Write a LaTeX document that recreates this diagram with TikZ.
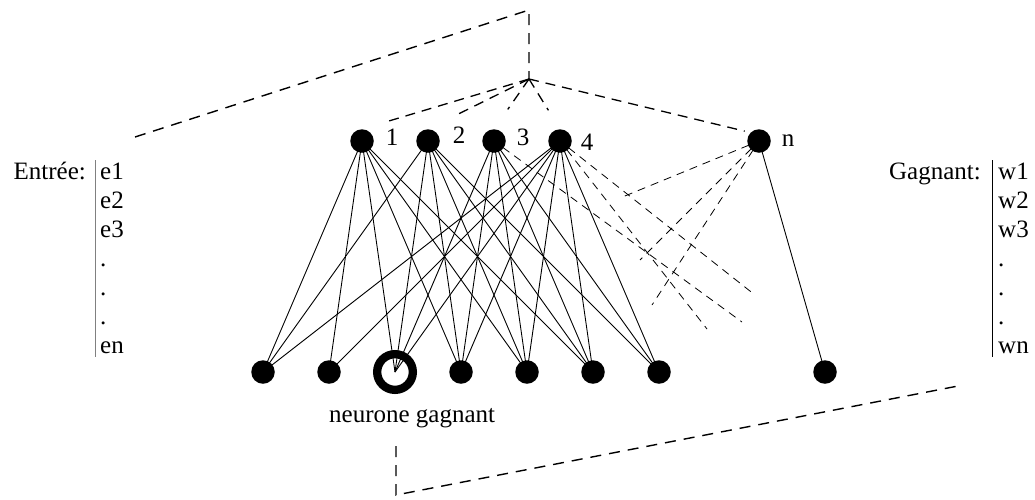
\documentclass[tikz,border=0pt]{standalone}
\usepackage{fontspec}
\setmainfont{Liberation Serif}
\pgfdeclarelayer{bg}
\pgfsetlayers{bg,main}
\begin{document}
\begin{tikzpicture}[x=1pt,y=-1pt,
  neuron/.style={circle,fill=black,inner sep=0pt,minimum size=23.5pt},
  winner/.style={circle,draw=black,line width=8.3pt,inner sep=0pt,minimum size=35.7pt},
  link/.style={line width=0.9pt},
  fan/.style={line width=1.3pt,dash pattern=on 10pt off 7pt},
  loopline/.style={line width=1.4pt,dash pattern=on 11pt off 8pt},
  etc/.style={line width=0.8pt,dash pattern=on 8pt off 6pt},
  lbl/.style={font=\fontsize{25}{29}\selectfont,inner sep=0pt},
  ]
\useasboundingbox (0,0) rectangle (1035,499);

% upper layer
\node[neuron] (t1) at (362,141) {};
\node[neuron] (t2) at (428,141) {};
\node[neuron] (t3) at (494,141) {};
\node[neuron] (t4) at (560,141) {};
\node[neuron] (tn) at (759,141) {};
\node[lbl] (l1) at (392,137) {1};
\node[lbl] (l2) at (459,135) {2};
\node[lbl] (l3) at (523,137) {3};
\node[lbl] (l4) at (587,142) {4};
\node[lbl] (ln) at (788,141) {n};

% lower layer
\node[neuron] (b1) at (263,372) {};
\node[neuron] (b2) at (329,372) {};
\node[winner] (bw) at (395,372) {};
\node[neuron] (b4) at (461,372) {};
\node[neuron] (b5) at (527,372) {};
\node[neuron] (b6) at (593,372) {};
\node[neuron] (b7) at (659,372) {};
\node[neuron] (b8) at (825,372) {};
\node[lbl,anchor=base west] (wlabel) at (329,422) {neurone gagnant};

% input vector
\node[lbl,anchor=base east] (inhead) at (86,179) {Entrée:};
\draw[gray,line width=1pt] (95,160) -- (95,357);
\foreach \t [count=\i] in {e1,e2,e3,.,.,.,en}
  \node[lbl,anchor=base west] (in\i) at (100,{179+29*(\i-1)}) {\t};

% winner vector
\node[lbl,anchor=base east] (outhead) at (981,179) {Gagnant:};
\draw[line width=0.9pt] (992,160) -- (992,357);
\foreach \t [count=\i] in {w1,w2,w3,.,.,.,wn}
  \node[lbl,anchor=base west] (out\i) at (998,{179+29*(\i-1)}) {\t};

% path of the input vector
\coordinate (inlead) at (135,137);
\coordinate (topcorner) at (529,10);
\coordinate (apex) at (529,79);
\draw[loopline] (inlead) -- (topcorner) -- (apex);
\draw[fan,shorten >=24pt] (apex) -- (t1.north);
\draw[fan,shorten >=30pt] (apex) -- (t2.north);
\draw[fan,shorten >=24pt] (apex) -- (t3.north);
\draw[fan,shorten >=22pt] (apex) -- (t4.north);
\draw[fan,shorten >=6pt] (apex) -- (tn.north west);

% path of the winner's weights
\coordinate (wdrop) at (396,446);
\coordinate (wcorner) at (396,495);
\coordinate (outlead) at (958,386);
\draw[loopline] (wdrop) -- (wcorner) -- (outlead);

% weighted links
\begin{pgfonlayer}{bg}
  \foreach \b in {b1,b2,bw,b4,b5,b6} \draw[link] (t1.center) -- (\b.center);
  \foreach \b in {b1,bw,b4,b5,b6,b7} \draw[link] (t2.center) -- (\b.center);
  \foreach \b in {bw,b4,b5,b6,b7} \draw[link] (t3.center) -- (\b.center);
  \foreach \b in {b1,b2,bw,b4,b5,b6,b7} \draw[link] (t4.center) -- (\b.center);
  \draw[link] (tn.center) -- (b8.center);
  % elided links
  \coordinate (d31) at (742,322);
  \coordinate (d41) at (755,295);
  \coordinate (d42) at (707,329);
  \coordinate (dn1) at (620,198);
  \coordinate (dn2) at (640,260);
  \coordinate (dn3) at (652,305);
  \draw[etc,shorten <=11pt] (t3.center) -- (d31);
  \draw[etc,shorten <=11pt] (t4.center) -- (d41);
  \draw[etc,shorten <=11pt] (t4.center) -- (d42);
  \draw[etc,shorten <=11pt] (tn.center) -- (dn1);
  \draw[etc,shorten <=11pt] (tn.center) -- (dn2);
  \draw[etc,shorten <=11pt] (tn.center) -- (dn3);
\end{pgfonlayer}
\end{tikzpicture}
\end{document}
